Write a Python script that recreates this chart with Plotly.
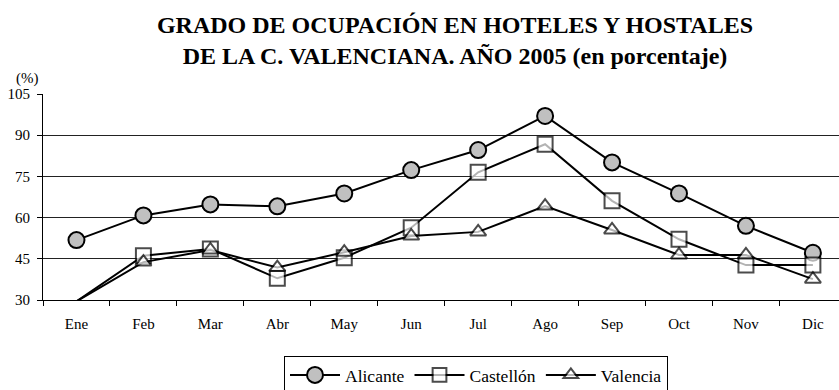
import plotly.graph_objects as go

# Monthly hotel/hostal occupancy (%) by province, 2005
meses = ["Ene", "Feb", "Mar", "Abr", "May", "Jun", "Jul", "Ago", "Sep", "Oct", "Nov", "Dic"]
alicante = [51.8, 60.8, 64.8, 64.1, 68.8, 77.3, 84.6, 97.0, 80.1, 68.8, 57.0, 47.2]
castellon = [29.5, 46.1, 48.6, 37.9, 45.4, 56.3, 76.5, 86.7, 66.1, 52.1, 42.7, 42.7]
valencia = [29.5, 43.8, 48.2, 41.8, 47.4, 53.3, 54.8, 64.2, 55.5, 46.4, 46.4, 37.6]

FONT = "'Liberation Serif', 'Times New Roman', Times, serif"
W, H = 839, 390
ML, MT, MB = 43, 94, 90


def sizes(values, s):
    # points below the axis floor get no marker
    return [0 if v < 30 else s for v in values]


fig = go.Figure()
fig.add_trace(go.Scatter(
    x=meses, y=alicante, name="Alicante", mode="lines+markers",
    line=dict(color="black", width=2),
    marker=dict(symbol="circle", size=16, color="#c0c0c0",
                line=dict(color="black", width=2)),
))
fig.add_trace(go.Scatter(
    x=meses, y=castellon, name="Castellón", mode="lines+markers",
    line=dict(color="black", width=2),
    marker=dict(symbol="square", size=sizes(castellon, 15), color="white",
                line=dict(color="black", width=2)),
))
fig.add_trace(go.Scatter(
    x=meses, y=valencia, name="Valencia", mode="lines+markers",
    line=dict(color="black", width=2),
    marker=dict(symbol="triangle-up", size=sizes(valencia, 14), color="white",
                line=dict(color="black", width=2)),
))

fig.update_layout(
    width=W, height=H,
    margin=dict(l=ML, r=0, t=MT, b=MB, pad=0, autoexpand=False),
    paper_bgcolor="white", plot_bgcolor="white",
    font=dict(family=FONT, color="black", size=15),
    title=dict(
        text="GRADO DE OCUPACIÓN EN HOTELES Y HOSTALES<br>DE LA C. VALENCIANA. AÑO 2005 (en porcentaje)",
        font=dict(family=FONT, size=24, color="black", weight="bold"),
        xref="container", x=455 / W, xanchor="center",
        yref="container", y=1 - 33 / H, yanchor="top",
    ),
    showlegend=True,
    legend=dict(
        orientation="h", x=(476 - ML) / (W - ML), xanchor="center",
        y=(300 - 356) / (300 - MT), yanchor="top",
        bordercolor="black", borderwidth=1, bgcolor="white",
        font=dict(family=FONT, size=17.5, color="black"),
        itemwidth=50, tracegroupgap=0,
    ),
    xaxis=dict(
        type="category", range=[-0.5, 11.39],
        showline=True, linecolor="black", linewidth=1,
        ticks="outside", ticklen=5, tickcolor="black", tickson="boundaries",
        ticklabelstandoff=10,
        showgrid=False, zeroline=False,
        tickfont=dict(family=FONT, size=15, color="black"),
    ),
    yaxis=dict(
        range=[30, 105], dtick=15, tick0=30,
        showline=True, linecolor="black", linewidth=1,
        ticks="outside", ticklen=5, tickcolor="black",
        ticklabelstandoff=4,
        showgrid=True, gridcolor="#222222", gridwidth=1,
        zeroline=False,
        tickfont=dict(family=FONT, size=15, color="black"),
    ),
    annotations=[dict(
        text="(%)", xref="paper", yref="paper",
        x=(27 - ML) / (W - ML), y=(300 - 78) / (300 - MT),
        xanchor="center", yanchor="middle", showarrow=False,
        font=dict(family=FONT, size=15, color="black"),
    )],
)

fig.write_html("out.html")
